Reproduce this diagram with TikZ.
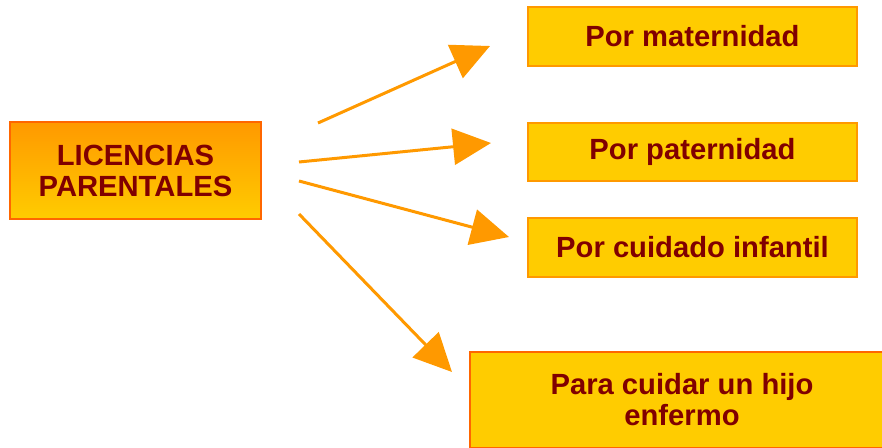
\documentclass[tikz,border=0pt]{standalone}
\usepackage{fontspec}
\setmainfont{Liberation Sans}
\usetikzlibrary{arrows.meta}

\definecolor{textred}{HTML}{800000}
\definecolor{boxyellow}{HTML}{FFCC00}
\definecolor{boxorange}{HTML}{FF9900}
\definecolor{edgeorange}{HTML}{FF6600}

\tikzset{
    optbox/.style={draw=boxorange, line width=2pt, fill=boxyellow, inner sep=0pt,
        text=textred, font=\fontsize{29.2}{31}\selectfont\bfseries, align=center},
    optarrow/.style={-{Triangle[length=38pt, width=36pt]}, boxorange, line width=3pt}
}

\begin{document}
\begin{tikzpicture}[x=1pt, y=-1pt]
    \useasboundingbox (0, 0) rectangle (882, 447);

    % main box
    \node[optbox, draw=edgeorange, top color=boxorange, bottom color=boxyellow,
        minimum width=251pt, minimum height=97pt] (lic) at (135.5, 170.5)
        {LICENCIAS\\PARENTALES};

    % the four kinds
    \node[optbox, minimum width=329pt, minimum height=59pt] (mat) at (692.5, 36.5) {Por maternidad};
    \node[optbox, minimum width=329pt, minimum height=58pt] (pat) at (692.5, 152) {Por paternidad};
    \node[optbox, minimum width=329pt, minimum height=59pt] (inf) at (692.5, 247.5) {Por cuidado infantil};
    \node[optbox, draw=edgeorange, minimum width=424pt, minimum height=96pt] (enf) at (682, 400)
        {Para cuidar un hijo\\enfermo};

    % arrow ends
    \coordinate (s1) at (318, 123);
    \coordinate (t1) at (490, 46);
    \coordinate (s2) at (299, 162);
    \coordinate (t2) at (491, 143);
    \coordinate (s3) at (299, 181);
    \coordinate (t3) at (509, 237);
    \coordinate (s4) at (299, 214);
    \coordinate (t4) at (452, 372);

    \draw[optarrow] (s1) -- (t1);
    \draw[optarrow] (s2) -- (t2);
    \draw[optarrow] (s3) -- (t3);
    \draw[optarrow] (s4) -- (t4);
\end{tikzpicture}
\end{document}
